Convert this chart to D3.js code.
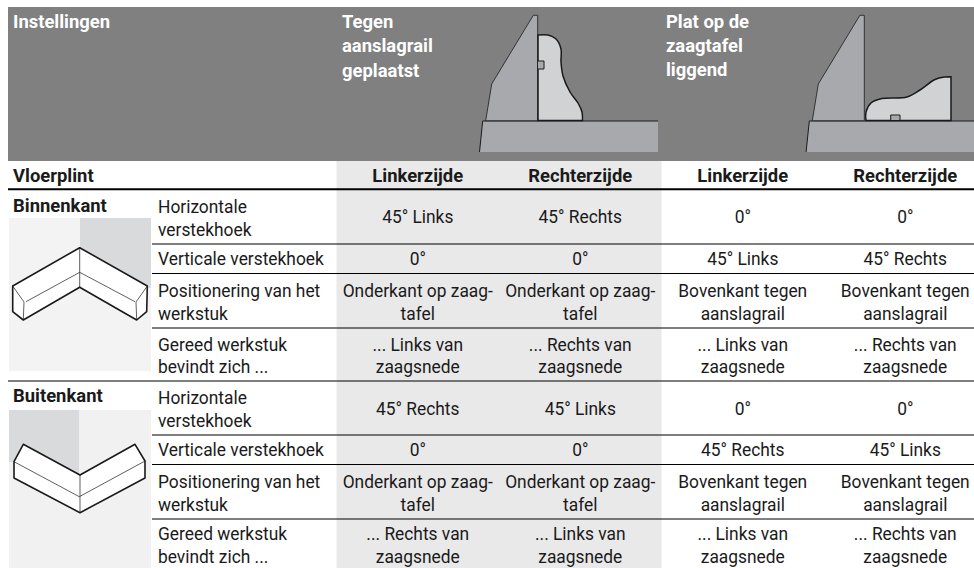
<!DOCTYPE html>
<html>
<head>
<meta charset="utf-8">
<script src="https://cdn.jsdelivr.net/npm/d3@7"></script>
<style>
    html, body { margin: 0; padding: 0; background: #fff; }
    svg { display: block; }
    text { font-family: Roboto, sans-serif; fill: #1a1a1a; }
</style>
</head>
<body>
<div class="container"></div>
<script>
const columns = ["Linkerzijde", "Rechterzijde", "Linkerzijde ", "Rechterzijde "];
const sections = ["Binnenkant", "Buitenkant"];
const rowKeys = ["a0", "a1", "a2", "a3", "b0", "b1", "b2", "b3"];
const rowLabels = [
    "Horizontale\nverstekhoek", "Verticale verstekhoek", "Positionering van het\nwerkstuk", "Gereed werkstuk\nbevindt zich ...",
    "Horizontale\nverstekhoek", "Verticale verstekhoek", "Positionering van het\nwerkstuk", "Gereed werkstuk\nbevindt zich ..."
];
const col1 = ["45° Links", "0°", "Onderkant op zaag-\ntafel", "... Links van\nzaagsnede", "45° Rechts", "0°", "Onderkant op zaag-\ntafel", "... Rechts van\nzaagsnede"];
const col2 = ["45° Rechts", "0°", "Onderkant op zaag-\ntafel", "... Rechts van\nzaagsnede", "45° Links", "0°", "Onderkant op zaag-\ntafel", "... Links van\nzaagsnede"];
const col3 = ["0°", "45° Links", "Bovenkant tegen\naanslagrail", "... Links van\nzaagsnede", "0°", "45° Rechts", "Bovenkant tegen\naanslagrail", "... Links van\nzaagsnede"];
const col4 = ["0°", "45° Rechts", "Bovenkant tegen\naanslagrail", "... Rechts van\nzaagsnede", "0°", "45° Links", "Bovenkant tegen\naanslagrail", "... Rechts van\nzaagsnede"];
const headerTitles = ["Instellingen", "Tegen\naanslagrail\ngeplaatst", "Plat op de\nzaagtafel\nliggend"];
const cornerTitle = "Vloerplint";

const w = 974, h = 568;
const rowTop = [190, 244.5, 274, 328.5, 381.5, 435.5, 465, 519.5];
const rowBottom = [244.5, 274, 328.5, 381.5, 435.5, 465, 519.5, 570];
const lineHeight = 22.6;
const bold = {size: 19, weight: 700, stretch: 0.97};

const svg = d3.select(".container").append("svg").attr("width", w).attr("height", h);

const x = d3.scaleBand().domain(columns).range([336.5, 986.5]);
const y0 = d3.scaleOrdinal().domain(rowKeys).range(rowTop);
const y1 = d3.scaleOrdinal().domain(rowKeys).range(rowBottom);

// backgrounds
svg.append("rect").attr("x", 8).attr("y", 7).attr("width", w - 8).attr("height", 154).attr("fill", "#808080");
svg.append("rect").attr("x", x(columns[0])).attr("y", 161)
    .attr("width", x.bandwidth() * 2).attr("height", h - 161).attr("fill", "#e9e9e9");

// condensed look of the original face: taller Roboto squeezed a little
function label(g, str, px, py, opts) {
    const o = Object.assign({size: 18, weight: 400, anchor: "start", fill: "#1a1a1a", stretch: 0.965, step: lineHeight}, opts);
    str.split("\n").forEach((s, i) => {
        g.append("text")
            .attr("transform", `translate(${px},${py + i * o.step}) scale(${o.stretch},1)`)
            .attr("text-anchor", o.anchor)
            .attr("font-size", o.size)
            .attr("font-weight", o.weight)
            .style("fill", o.fill)
            .text(s);
    });
}

const fenceLine = d3.line();
const smooth = d3.line().curve(d3.curveCatmullRom.alpha(0.5));

function machine(dx, tableRight) {
    const g = svg.append("g").attr("transform", `translate(${dx},0)`);
    g.append("path").attr("d", fenceLine([[482.7, 121], [tableRight, 121], [tableRight, 152], [479.5, 152]]) + "Z")
        .attr("fill", "#a7a9ac");
    g.append("path").attr("d", fenceLine([[479.5, 152], [482.7, 121], [tableRight, 121]]))
        .attr("fill", "none").attr("stroke", "#1a1a1a").attr("stroke-width", 1);
    g.append("path").attr("d", fenceLine([[533.3, 15.3], [537.7, 15.3], [537.7, 120.7], [485.7, 120.7], [491.7, 84]]) + "Z")
        .attr("fill", "#a7a9ac").attr("stroke", "#1a1a1a").attr("stroke-width", 0.8);
    return g;
}

// saw table with the workpiece stood against the fence
const m1 = machine(0, 658);
m1.append("path")
    .attr("d", "M538,35" + smooth([[538, 35], [548, 35], [556, 39], [561, 49], [561, 62], [563, 76], [570, 92], [578, 103], [582, 112], [582.5, 120.5]]).replace(/^M[^C]*/, "") + "L538,120.5Z")
    .attr("fill", "#d1d2d4").attr("stroke", "#1a1a1a").attr("stroke-width", 1.5);
m1.append("path").attr("d", fenceLine([[538, 61], [544, 61], [544, 69], [538, 69]]))
    .attr("fill", "#a7a9ac").attr("stroke", "#1a1a1a").attr("stroke-width", 1);

// workpiece lying flat
const m2 = machine(326.6, 974 - 326.6);
m2.append("g").attr("transform", "translate(-326.6,0)").call(g => {
    g.append("path")
        .attr("d", "M866,120.5" + smooth([[866, 120.5], [866, 112], [871, 103], [882, 98.5], [907, 97], [920, 90], [935, 79.5], [945, 77], [951, 76.7]]).replace(/^M[^C]*/, "") + "L951,120.5Z")
        .attr("fill", "#d1d2d4").attr("stroke", "#1a1a1a").attr("stroke-width", 1.5);
    g.append("path").attr("d", fenceLine([[890.7, 120.5], [890.7, 115], [900, 115], [900, 120.5]]) + "Z")
        .attr("fill", "#a7a9ac").attr("stroke", "#1a1a1a").attr("stroke-width", 1);
});

// corner sketches
function moulding(outline, thin) {
    svg.append("path").attr("d", fenceLine(outline) + "Z").attr("fill", "#fff")
        .attr("stroke", "#1a1a1a").attr("stroke-width", 1.6).attr("stroke-linejoin", "round");
    thin.forEach(t => svg.append("path").attr("d", fenceLine(t)).attr("fill", "none")
        .attr("stroke", "#1a1a1a").attr("stroke-width", 0.7));
}
svg.append("rect").attr("x", 9).attr("y", 218).attr("width", 142).attr("height", 153).attr("fill", "#f3f3f4");
svg.append("rect").attr("x", 80).attr("y", 218).attr("width", 71).attr("height", 70).attr("fill", "#d9dadc");
moulding(
    [[79.7, 247.7], [147.3, 286], [146.7, 311.7], [136.7, 320], [79.7, 287.3], [23.3, 320], [12.7, 311.7], [12.7, 286]],
    [[[26, 301.7], [79.7, 272.3], [135, 301.7]], [[12.7, 286], [24, 302], [23.3, 320]], [[147.3, 286], [136, 302], [136.7, 320]], [[79.7, 247.7], [79.7, 287.3]]]
);
svg.append("rect").attr("x", 9).attr("y", 410).attr("width", 142).attr("height", h - 410).attr("fill", "#f1f1f2");
svg.append("path").attr("d", fenceLine([[9, 410], [79, 410], [79, 476], [14, 462], [9, 462]]) + "Z").attr("fill", "#d9dadc");
moulding(
    [[23.3, 444.3], [80, 475], [135, 444.3], [145, 461], [145, 478], [80, 512.7], [14, 478], [14, 461.7]],
    [[[14, 461.7], [79.3, 496.7], [145, 461]], [[80, 475], [80, 512.7]]]
);

// rules
svg.append("line").attr("x1", 8).attr("x2", w).attr("y1", 189.3).attr("y2", 189.3).attr("stroke", "#000").attr("stroke-width", 2);
rowKeys.slice(1).forEach(k => {
    svg.append("line")
        .attr("x1", k === "b0" ? 8 : 152).attr("x2", w)
        .attr("y1", y0(k) - 0.5).attr("y2", y0(k) - 0.5)
        .attr("stroke", "#000").attr("stroke-width", 1.1);
});

// header text
const texts = svg.append("g");
const white = Object.assign({}, bold, {fill: "#fff"});
label(texts, headerTitles[0], 13, 28, white);
label(texts, headerTitles[1], 342, 28, Object.assign({step: 24.3}, white));
label(texts, headerTitles[2], 666, 28, Object.assign({step: 24}, white));
label(texts, cornerTitle, 13, 181.5, bold);
columns.forEach(c => {
    label(texts, c.trim(), x(c) + x.bandwidth() / 2, 181.5, Object.assign({anchor: "middle"}, bold));
});
label(texts, sections[0], 13, 212, bold);
label(texts, sections[1], 13, 402, bold);

// body cells
function block(str, k, px, anchor) {
    const lines = str.split("\n").length;
    const mid = (y0(k) + y1(k)) / 2;
    const offset = lines > 1 ? 7 : 6;
    label(texts, str, px, mid + offset - (lines - 1) * lineHeight / 2, {anchor: anchor});
}
rowKeys.forEach((k, i) => {
    block(rowLabels[i], k, 158, "start");
    [col1, col2, col3, col4].forEach((col, j) => {
        block(col[i], k, x(columns[j]) + x.bandwidth() / 2, "middle");
    });
});
</script>
</body>
</html>
